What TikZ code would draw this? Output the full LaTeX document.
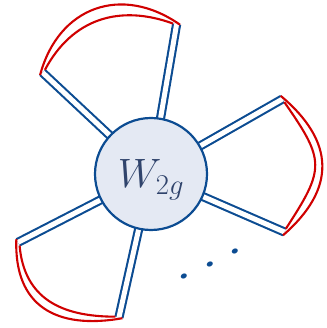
\RequirePackage{fix-cm}
\documentclass[tikz,border=0pt]{standalone}
\usetikzlibrary{calc}
\definecolor{legblue}{RGB}{12,76,146}
\definecolor{loopred}{RGB}{208,0,0}
\definecolor{discfill}{RGB}{228,233,243}
\definecolor{txtblue}{RGB}{48,68,108}
\begin{document}
\begin{tikzpicture}[x=1pt,y=1pt,
  leg/.style={draw=legblue, line width=2.1, double=white, double distance=5},
  loopline/.style={draw=loopred, line width=2.1},
  disc/.style={circle, draw=legblue, line width=2.2, fill=discfill, minimum size=112, inner sep=0, text=txtblue, text height=28, text depth=0},
  dotrow/.style={text=legblue, inner sep=0}]
\useasboundingbox (0,0) rectangle (326,328);
\coordinate (C) at (151,154);
\foreach \n/\a/\l in {t/80.3/152, ul/136.9/148.6, ur/29.7/151.4, lr/-23.5/145.5, ll/207.2/149.6, b/257.4/147} {
  \coordinate (\n) at ($(C)+(\a:\l)$);
  \coordinate (\n-p) at ($(\n)+(\a+90:3.55)$);
  \coordinate (\n-m) at ($(\n)+(\a-90:3.55)$);
}
\foreach \n in {t,ul,ur,lr,ll,b} \draw[leg] (C) -- (\n);
% loops
\draw[loopline] (ul-p) to[out=75,in=145,looseness=1.22] (t-m);
\draw[loopline] (ul-m) to[out=62,in=160,looseness=1.08] (t-p);
\draw[loopline] (ur-p) to[out=-40,in=41,looseness=1.3] (lr-m);
\draw[loopline] (ur-m) to[out=-55,in=57,looseness=1.45] (lr-p);
\draw[loopline] (ll-m) to[out=268,in=190,looseness=1.3] (b-p);
\draw[loopline] (ll-p) to[out=275,in=180,looseness=1.15] (b-m);
\node[disc] (W) at (C) {\fontsize{41}{41}\selectfont$W_{2g}$};
\node[dotrow, rotate=26, xscale=1.29] (dots) at (210,64) {\fontsize{50}{50}\selectfont$\ldots$};
\end{tikzpicture}
\end{document}
